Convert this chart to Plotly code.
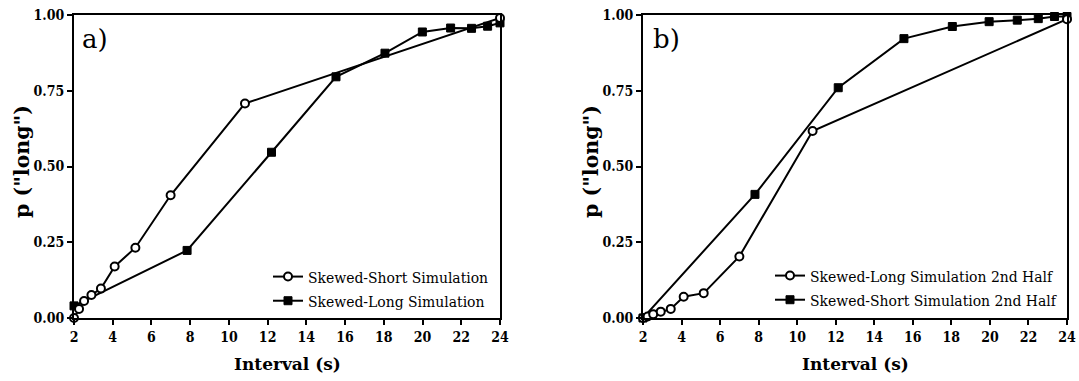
import plotly.graph_objects as go

# Panel a data
a_short_x = [2.0, 2.26, 2.52, 2.9, 3.39, 4.1, 5.17, 6.99, 10.83, 24.0]
a_short_y = [0.0, 0.03, 0.056, 0.076, 0.097, 0.17, 0.232, 0.405, 0.708, 0.99]
a_long_x = [2.0, 7.84, 12.2, 15.53, 18.06, 19.99, 21.45, 22.53, 23.36, 24.0]
a_long_y = [0.04, 0.223, 0.547, 0.796, 0.874, 0.944, 0.957, 0.956, 0.963, 0.974]

# Panel b data
b_long_x = [2.0, 2.24, 2.53, 2.92, 3.44, 4.11, 5.15, 7.0, 10.8, 24.0]
b_long_y = [0.0, 0.005, 0.012, 0.021, 0.03, 0.07, 0.082, 0.203, 0.617, 0.986]
b_short_x = [2.0, 7.81, 12.13, 15.54, 18.05, 19.96, 21.42, 22.51, 23.35, 24.0]
b_short_y = [0.0, 0.408, 0.76, 0.922, 0.962, 0.978, 0.983, 0.988, 0.995, 0.995]

x_ticks = [2, 4, 6, 8, 10, 12, 14, 16, 18, 20, 22, 24]
y_ticks = [0, 0.25, 0.5, 0.75, 1.0]
y_ticklabels = ["0.00", "0.25", "0.50", "0.75", "1.00"]

FONT_TICK = "DejaVu Serif Condensed"
FONT_LEG = "DejaVu Serif Condensed"
FONT_ANN = "DejaVu Serif"
W, H = 1079, 381

circle = dict(symbol="circle", size=8, color="white", line=dict(color="black", width=2))
square = dict(symbol="square", size=8, color="black", line=dict(color="black", width=1))
line = dict(color="black", width=2)

fig = go.Figure()
fig.add_trace(go.Scatter(x=a_long_x, y=a_long_y, mode="lines+markers", marker=square, line=line,
                         name="Skewed-Long Simulation", xaxis="x", yaxis="y", legend="legend",
                         legendgroup="a2", legendrank=2, cliponaxis=False))
fig.add_trace(go.Scatter(x=a_short_x, y=a_short_y, mode="lines+markers", marker=circle, line=line,
                         name="Skewed-Short Simulation", xaxis="x", yaxis="y", legend="legend",
                         legendgroup="a1", legendrank=1, cliponaxis=False))
fig.add_trace(go.Scatter(x=b_short_x, y=b_short_y, mode="lines+markers", marker=square, line=line,
                         name="Skewed-Short Simulation 2nd Half", xaxis="x2", yaxis="y2", legend="legend2",
                         legendgroup="b2", legendrank=2, cliponaxis=False))
fig.add_trace(go.Scatter(x=b_long_x, y=b_long_y, mode="lines+markers", marker=circle, line=line,
                         name="Skewed-Long Simulation 2nd Half", xaxis="x2", yaxis="y2", legend="legend2",
                         legendgroup="b1", legendrank=1, cliponaxis=False))

top, bottom = 15, 318
ax_common = dict(showgrid=False, zeroline=False, showline=True, linecolor="black", linewidth=2,
                 mirror=True, ticks="outside", ticklen=5, tickwidth=2, tickcolor="black",
                 tickfont=dict(family=FONT_TICK, size=14, color="black", weight="bold"))

xa_dom = [74 / W, 500 / W]
xb_dom = [643 / W, 1067 / W]
ydom = [1 - bottom / H, 1 - top / H]

fig.update_layout(
    width=W, height=H, margin=dict(l=0, r=0, t=0, b=0, autoexpand=False),
    paper_bgcolor="white", plot_bgcolor="white",
    font=dict(color="black"),
    xaxis=dict(domain=xa_dom, range=[2, 24], tickvals=x_ticks, anchor="y", **ax_common),
    yaxis=dict(domain=ydom, range=[0, 1], tickvals=y_ticks, ticktext=y_ticklabels, anchor="x", **ax_common),
    xaxis2=dict(domain=xb_dom, range=[2, 24], tickvals=x_ticks, anchor="y2", **ax_common),
    yaxis2=dict(domain=ydom, range=[0, 1], tickvals=y_ticks, ticktext=y_ticklabels, anchor="x2", **ax_common),
    legend=dict(x=268 / W, y=1 - 260 / H, xanchor="left", yanchor="top", bgcolor="rgba(0,0,0,0)",
                font=dict(family=FONT_LEG, size=15.5, color="black"), tracegroupgap=1,
                traceorder="grouped"),
    legend2=dict(x=770 / W, y=1 - 259 / H, xanchor="left", yanchor="top", bgcolor="rgba(0,0,0,0)",
                 font=dict(family=FONT_LEG, size=15.5, color="black"), tracegroupgap=1,
                 traceorder="grouped"),
    showlegend=True,
)

annots = [
    dict(text="a)", x=80 / W, y=1 - 22 / H, xanchor="left", yanchor="top", font=dict(size=26)),
    dict(text="b)", x=651 / W, y=1 - 22 / H, xanchor="left", yanchor="top", font=dict(size=26)),
    dict(text="<b>Interval (s)</b>", x=287 / W, y=1 - 364 / H, xanchor="center", yanchor="middle", font=dict(size=17)),
    dict(text="<b>Interval (s)</b>", x=855 / W, y=1 - 364 / H, xanchor="center", yanchor="middle", font=dict(size=17)),
    dict(text="<b>p (\"long\")</b>", x=22 / W, y=1 - 162 / H, xanchor="center", yanchor="middle", textangle=-90, font=dict(size=20.5)),
    dict(text="<b>p (\"long\")</b>", x=591 / W, y=1 - 162 / H, xanchor="center", yanchor="middle", textangle=-90, font=dict(size=20.5)),
]
for a in annots:
    a.update(xref="paper", yref="paper", showarrow=False)
    a["font"].update(family=FONT_ANN, color="black")
fig.update_layout(annotations=annots)

fig.write_html("out.html")
